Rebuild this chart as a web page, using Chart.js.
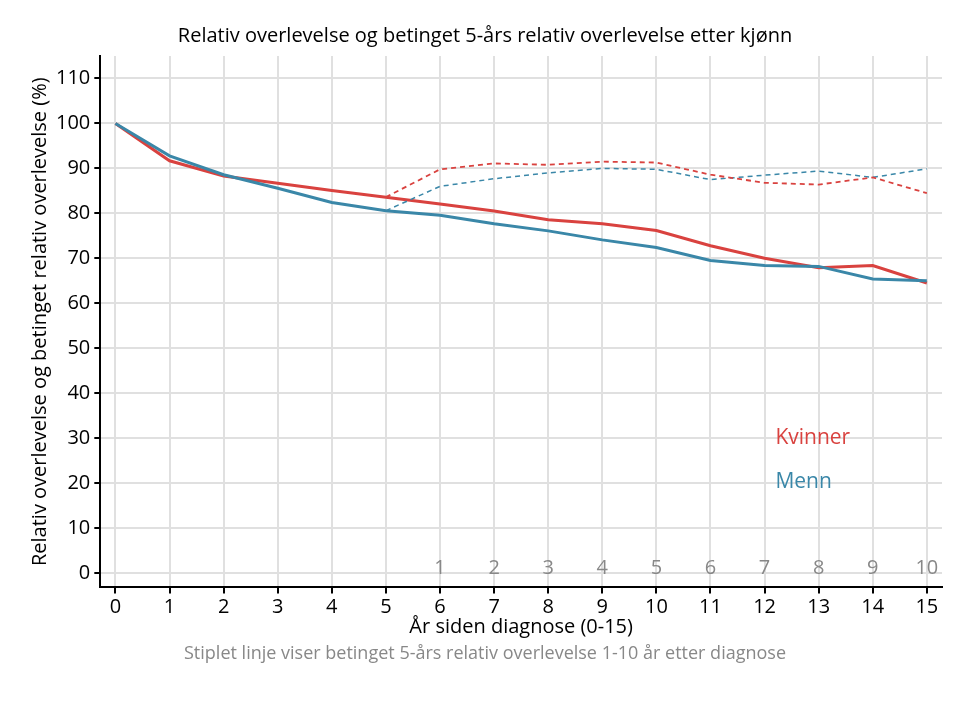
<!DOCTYPE html><html><head><meta charset="utf-8">
<script src="https://cdn.jsdelivr.net/npm/chart.js@4"></script>
<style>body{margin:0;background:#fff}#w{width:970px;height:705px}</style></head><body><div id="w"><canvas id="c"></canvas></div>
<script>
const years=[0,1,2,3,4,5,6,7,8,9,10,11,12,13,14,15];
const kvinner=[100,91.7,88.3,86.7,85.1,83.6,82.1,80.5,78.6,77.7,76.2,72.8,70.0,67.9,68.4,64.5];
const menn=[100,92.8,88.6,85.6,82.4,80.6,79.6,77.7,76.1,74.1,72.4,69.5,68.4,68.2,65.4,65.0];
const condYears=[5,6,7,8,9,10,11,12,13,14,15];
const kvinnerCond=[83.6,89.8,91.1,90.8,91.5,91.3,88.6,86.8,86.4,88.0,84.5];
const mennCond=[80.6,86.0,87.7,89.0,90.0,89.8,87.5,88.5,89.4,88.0,89.9];
const condLabels=['1','2','3','4','5','6','7','8','9','10'];
const RED='#d9423f',BLUE='#3a87a8';
const pts=(xs,ys)=>xs.map((x,i)=>({x,y:ys[i]}));
const F='"Open Sans", sans-serif';
const extra={id:'extra',afterDatasetsDraw(ch){const {ctx,scales:{x,y}}=ch;ctx.save();
ctx.font='20px '+F;ctx.fillStyle='#888';ctx.textAlign='center';ctx.textBaseline='middle';
condLabels.forEach((l,i)=>ctx.fillText(l,x.getPixelForValue(6+i),y.getPixelForValue(1)));
ctx.textAlign='left';ctx.font='21px '+F;
ctx.fillStyle=RED;ctx.fillText('Kvinner',x.getPixelForValue(12.2),y.getPixelForValue(30));
ctx.fillStyle=BLUE;ctx.fillText('Menn',x.getPixelForValue(12.2),y.getPixelForValue(20.2));
ctx.restore();}};
new Chart(document.getElementById('c'),{type:'line',
data:{datasets:[
{data:pts(condYears,kvinnerCond),borderColor:RED,borderWidth:1.8,borderDash:[5,4],pointRadius:0},
{data:pts(condYears,mennCond),borderColor:BLUE,borderWidth:1.5,borderDash:[5,4],pointRadius:0},
{data:pts(years,menn),borderColor:BLUE,borderWidth:3,pointRadius:0},
{data:pts(years,kvinner),borderColor:RED,borderWidth:3,pointRadius:0}]},
options:{responsive:true,maintainAspectRatio:false,animation:false,
layout:{padding:{left:28,right:28,top:0,bottom:22}},
plugins:{legend:{display:false},tooltip:{enabled:false},
title:{display:true,text:'Relativ overlevelse og betinget 5-års relativ overlevelse etter kjønn',font:{family:F,size:20,weight:'500'},color:'#000',padding:{top:24,bottom:8}},
subtitle:{display:true,position:'bottom',text:'Stiplet linje viser betinget 5-års relativ overlevelse 1-10 år etter diagnose',font:{family:F,size:18},color:'#888',padding:{top:4,bottom:18}}},
scales:{
x:{type:'linear',min:-0.28,max:15.28,afterBuildTicks:a=>{a.ticks=years.map(v=>({value:v}));},
ticks:{font:{family:F,size:20},color:'#000',padding:2},
grid:{color:'#e0e0e0',lineWidth:2,tickColor:'#000',tickLength:6},border:{color:'#000',width:2},
title:{display:true,text:'År siden diagnose (0-15)',font:{family:F,size:20},color:'#000',padding:{top:-6,bottom:0}}},
y:{min:-3.2,max:115,afterBuildTicks:a=>{a.ticks=[0,10,20,30,40,50,60,70,80,90,100,110].map(v=>({value:v}));},
ticks:{font:{family:F,size:20},color:'#000',padding:4},
grid:{color:'#e0e0e0',lineWidth:2,tickColor:'#000',tickLength:6},border:{color:'#000',width:2},
title:{display:true,text:'Relativ overlevelse og betinget relativ overlevelse (%)',font:{family:F,size:20},color:'#000',padding:0}}}},
plugins:[extra]});
</script></body></html>
